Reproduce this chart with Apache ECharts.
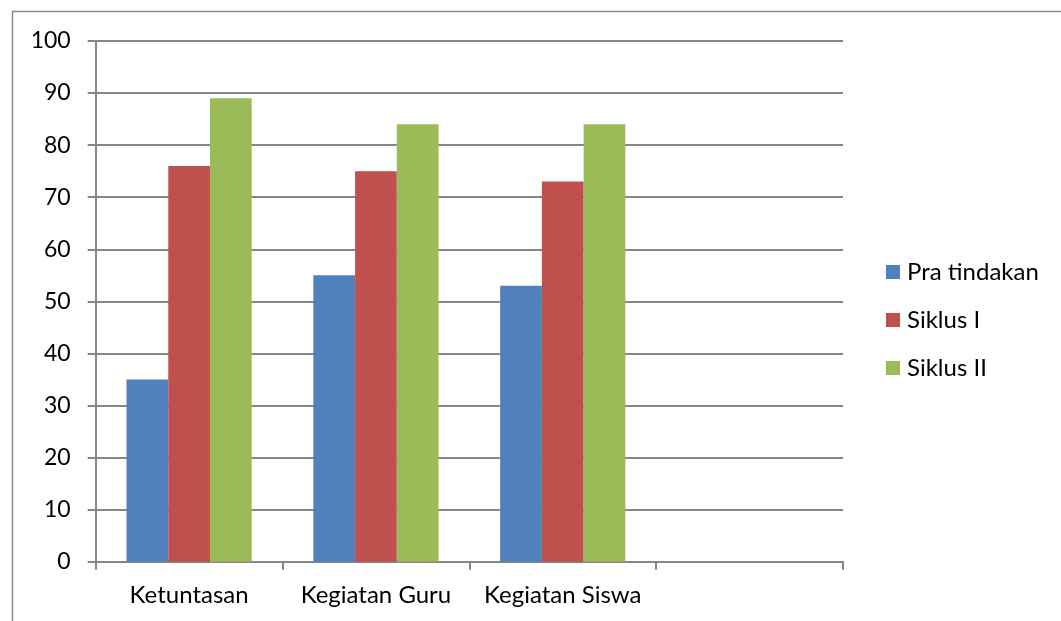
<!DOCTYPE html>
<html>
<head>
<meta charset="utf-8">
<script src="https://cdn.jsdelivr.net/npm/echarts@6/dist/echarts.min.js"></script>
<style>html,body{margin:0;padding:0;background:#fff}#c{width:1061px;height:621px}</style>
</head>
<body>
<div id="c"></div>
<script>
const categories = ['Ketuntasan', 'Kegiatan Guru', 'Kegiatan Siswa', ''];
const praTindakan = [35, 55, 53, null];
const siklusI = [76, 75, 73, null];
const siklusII = [89, 84, 84, null];
const seriesNames = ['Pra tindakan', 'Siklus I', 'Siklus II'];
const colors = ['#4F81BD', '#C0504D', '#9BBB59'];

const chart = echarts.init(document.getElementById('c'), null, {renderer: 'canvas'});
const font = 'Lato, "Open Sans", sans-serif';
chart.setOption({
  animation: false,
  graphic: [{
    type: 'polyline', silent: true,
    shape: {points: [[12.5, 621], [12.5, 11.5], [1061, 11.5]]},
    style: {stroke: '#8c8c8c', lineWidth: 1.5, fill: null}
  }],
  grid: {left: 95.7, right: 218, top: 41, bottom: 59.3},
  legend: {
    orient: 'vertical', left: 886, top: 260, itemGap: 24, padding: 0,
    itemWidth: 14, itemHeight: 14, icon: 'rect',
    textStyle: {fontFamily: font, fontSize: 24, color: '#000', padding: [0, 0, 0, 2]},
    data: seriesNames
  },
  xAxis: {
    type: 'category', data: categories,
    axisLine: {lineStyle: {color: '#868686', width: 2}},
    axisTick: {show: true, length: 8, lineStyle: {color: '#868686', width: 2}, alignWithLabel: false},
    axisLabel: {fontFamily: font, fontSize: 24, color: '#000', margin: 22, interval: 0}
  },
  yAxis: {
    type: 'value', min: 0, max: 100, interval: 10,
    axisLine: {show: true, lineStyle: {color: '#868686', width: 2}},
    axisTick: {show: true, length: 8, inside: false, lineStyle: {color: '#868686', width: 2}},
    splitLine: {lineStyle: {color: '#868686', width: 2}},
    axisLabel: {fontFamily: font, fontSize: 23, color: '#000', margin: 25}
  },
  series: [
    {name: seriesNames[0], type: 'bar', data: praTindakan, itemStyle: {color: colors[0]}, barGap: '0%', barCategoryGap: '33%'},
    {name: seriesNames[1], type: 'bar', data: siklusI, itemStyle: {color: colors[1]}, barGap: '0%', barCategoryGap: '33%'},
    {name: seriesNames[2], type: 'bar', data: siklusII, itemStyle: {color: colors[2]}, barGap: '0%', barCategoryGap: '33%'}
  ]
});
</script>
</body>
</html>
